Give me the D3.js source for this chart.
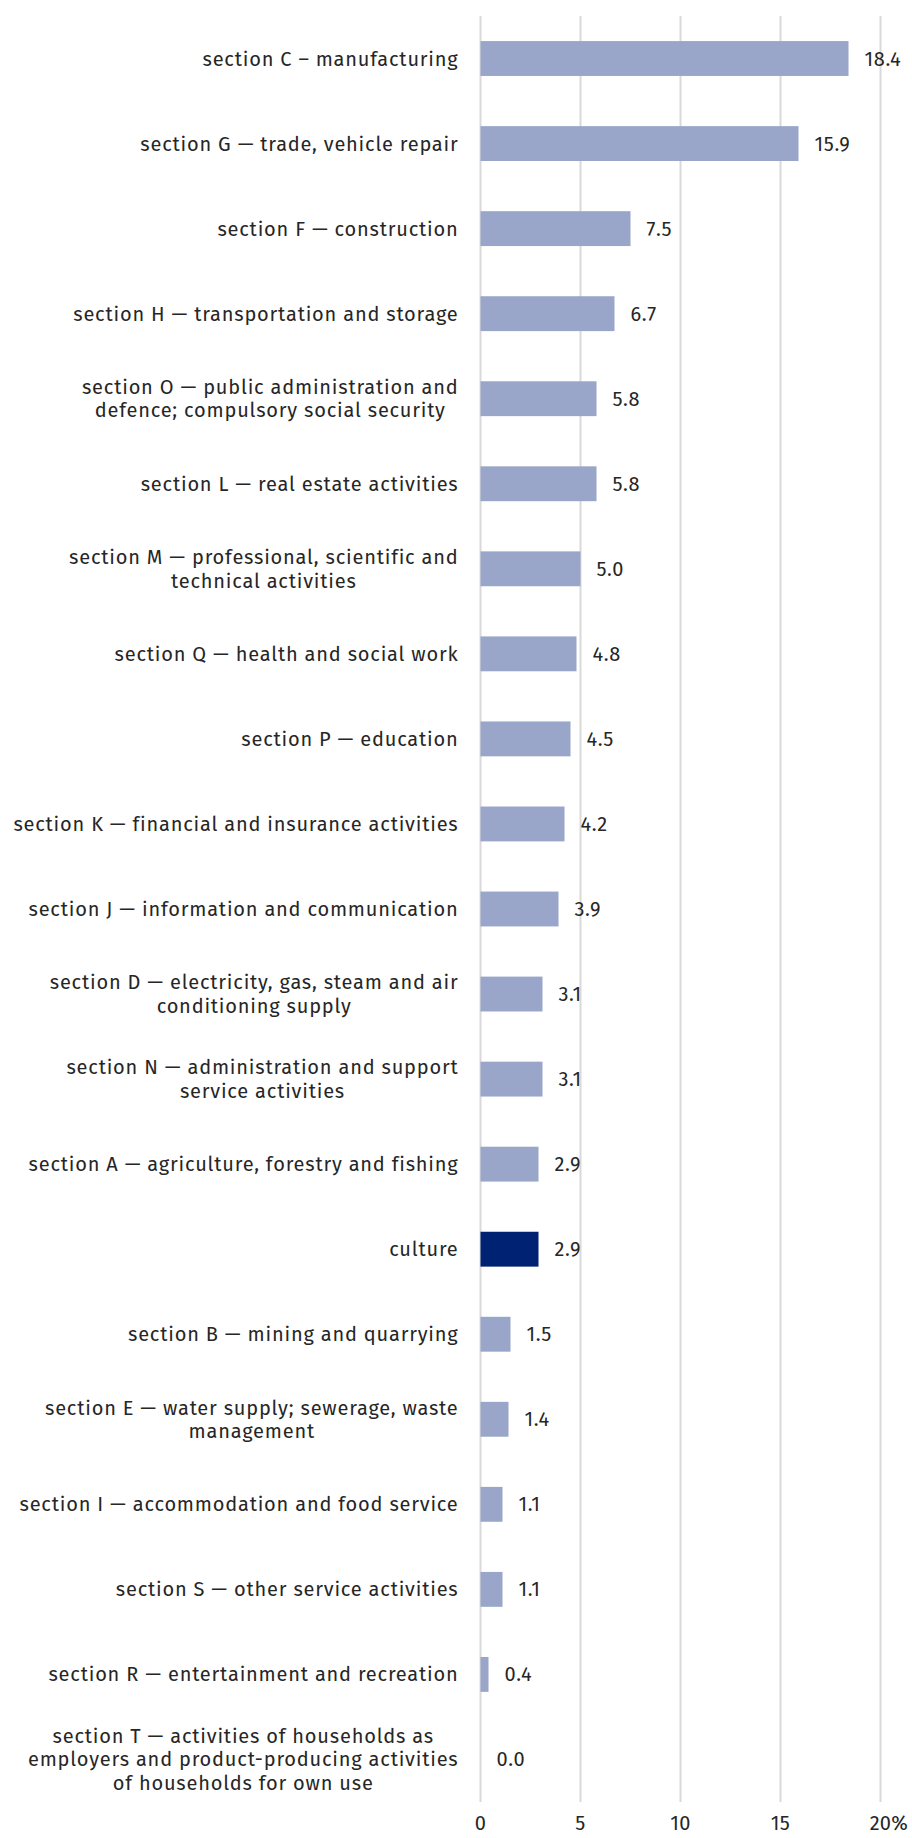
<!DOCTYPE html>
<html>
<head>
<meta charset="utf-8">
<script src="https://cdn.jsdelivr.net/npm/d3@7"></script>
<style>
  html, body { margin: 0; padding: 0; background: #fff; }
  svg text { font-family: "Fira Sans", Lato, "Noto Sans", sans-serif; fill: #262626; }
</style>
</head>
<body>
<div id="chart"></div>
<script>
// --- data ---
const labels = [
  ["section C \u2013 manufacturing"],
  ["section G \u2014 trade, vehicle repair"],
  ["section F \u2014 construction"],
  ["section H \u2014 transportation and storage"],
  ["section O \u2014 public administration and", "defence; compulsory social security"],
  ["section L \u2014 real estate activities"],
  ["section M \u2014 professional, scientific and", "technical activities"],
  ["section Q \u2014 health and social work"],
  ["section P \u2014 education"],
  ["section K \u2014 financial and insurance activities"],
  ["section J \u2014 information and communication"],
  ["section D \u2014 electricity, gas, steam and air", "conditioning supply"],
  ["section N \u2014 administration and support", "service activities"],
  ["section A \u2014 agriculture, forestry and fishing"],
  ["culture"],
  ["section B \u2014 mining and quarrying"],
  ["section E \u2014 water supply; sewerage, waste", "management"],
  ["section I \u2014 accommodation and food service"],
  ["section S \u2014 other service activities"],
  ["section R \u2014 entertainment and recreation"],
  ["section T \u2014 activities of households as", "employers and product-producing activities", "of households for own use"]
];
const values = [18.4, 15.9, 7.5, 6.7, 5.8, 5.8, 5.0, 4.8, 4.5, 4.2, 3.9, 3.1, 3.1, 2.9, 2.9, 1.5, 1.4, 1.1, 1.1, 0.4, 0.0];
const highlight = ["culture"];
const xTicks = [0, 5, 10, 15, 20];

// --- layout ---
const width = 912, height = 1838;
const margin = { top: 16, right: 31.5, bottom: 36, left: 480.5 };
const labelGap = 22;
const lineH = 23.5;

const svg = d3.select("#chart").append("svg").attr("width", width).attr("height", height);

const x = d3.scaleLinear().domain([0, 20]).range([margin.left, width - margin.right]);
const y = d3.scaleBand().domain(d3.range(values.length))
  .range([margin.top, height - margin.bottom]).paddingInner(0.59).paddingOuter(0.295);

// gridlines
svg.append("g").selectAll("line").data(xTicks).join("line")
  .attr("x1", d => x(d)).attr("x2", d => x(d))
  .attr("y1", margin.top).attr("y2", height - margin.bottom)
  .attr("stroke", "#d9d9d9").attr("stroke-width", 2);

// tick labels: number centred on the gridline, "%" hangs after the last one
const ticks = svg.append("g").selectAll("text").data(xTicks).join("text")
  .attr("y", height - 8)
  .style("font-size", "20px").style("letter-spacing", "0.3px")
  .text(d => d);
ticks.each(function(d) {
  const w = this.getComputedTextLength();
  d3.select(this).attr("x", x(d) - w / 2);
  if (d === xTicks[xTicks.length - 1]) d3.select(this).append("tspan").text("%");
});

// bars
svg.append("g").selectAll("rect").data(values).join("rect")
  .attr("x", x(0)).attr("y", (d, i) => y(i))
  .attr("width", d => x(d) - x(0)).attr("height", y.bandwidth())
  .attr("fill", (d, i) => highlight.includes(labels[i][0]) ? "#002272" : "#99a6c9");

// value labels
svg.append("g").selectAll("text").data(values).join("text")
  .attr("x", d => x(d) + 16).attr("y", (d, i) => y(i) + y.bandwidth() / 2)
  .attr("dy", "0.35em").style("font-size", "20px").style("letter-spacing", "0.6px")
  .text(d => d.toFixed(1));

// category labels (multi-line ones centred on their widest line)
const labelRight = x(0) - labelGap;
const cat = svg.append("g").selectAll("text").data(labels).join("text")
  .style("font-size", "20px").style("letter-spacing", "0.8px")
  .attr("text-anchor", "middle");
cat.each(function(lines, i) {
  const t = d3.select(this);
  const cy = y(i) + y.bandwidth() / 2;
  const y0 = cy - (lines.length - 1) * lineH / 2;
  lines.forEach((ln, k) => {
    t.append("tspan").attr("y", y0 + k * lineH).attr("dy", "0.35em").text(ln);
  });
  const w = d3.max(t.selectAll("tspan").nodes(), n => n.getComputedTextLength());
  t.selectAll("tspan").attr("x", labelRight - w / 2);
});
</script>
</body>
</html>
